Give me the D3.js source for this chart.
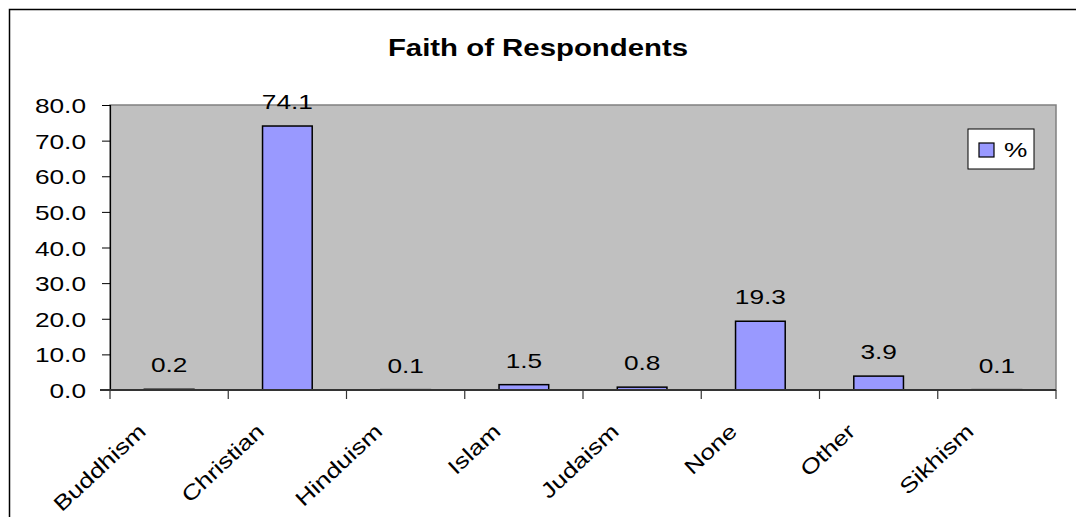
<!DOCTYPE html>
<html>
<head>
<meta charset="utf-8">
<script src="https://cdn.jsdelivr.net/npm/d3@7"></script>
<style>
  html, body { margin: 0; padding: 0; background: #fff; }
  svg { display: block; }
  text { font-family: Arial, "Liberation Sans", sans-serif; fill: #000; }
</style>
</head>
<body>
<script>
const title = "Faith of Respondents";
const categories = ["Buddhism", "Christian", "Hinduism", "Islam", "Judaism", "None", "Other", "Sikhism"];
const values = [0.2, 74.1, 0.1, 1.5, 0.8, 19.3, 3.9, 0.1];
const seriesName = "%";
const yTicks = [0, 10, 20, 30, 40, 50, 60, 70, 80];

const W = 1076, H = 517;
const SX = 1.25; // horizontal stretch of the original rendering
const FS = 21;
const plot = { left: 110, top: 105, right: 1056, bottom: 390 };

const svg = d3.select("body").append("svg").attr("width", W).attr("height", H);

// outer chart border
svg.append("rect").attr("x", 9.5).attr("y", 9.5).attr("width", W + 20).attr("height", H + 20)
  .attr("fill", "#fff").attr("stroke", "#000").attr("stroke-width", 1.5);

const x = d3.scaleBand().domain(categories).range([plot.left, plot.right]).paddingInner(0.58).paddingOuter(0.29);
const xStep = d3.scaleBand().domain(categories).range([plot.left, plot.right]);
const y = d3.scaleLinear().domain([0, 80]).range([plot.bottom, plot.top]);

// plot area
svg.append("rect").attr("x", plot.left).attr("y", plot.top)
  .attr("width", plot.right - plot.left).attr("height", plot.bottom - plot.top)
  .attr("fill", "#c0c0c0").attr("stroke", "#808080").attr("stroke-width", 1.5);

// bars
svg.append("g").selectAll("rect").data(values).join("rect")
  .attr("x", (d, i) => x(categories[i]))
  .attr("y", d => y(d))
  .attr("width", x.bandwidth())
  .attr("height", d => Math.max(0, y(0) - y(d)))
  .attr("fill", "#9999ff").attr("stroke", "#000").attr("stroke-width", 1.5);

// y axis
const yAxis = svg.append("g").attr("transform", `translate(${plot.left},0)`)
  .call(d3.axisLeft(y).tickValues(yTicks).tickSize(8).tickFormat(d => d3.format(".1f")(d)));
yAxis.select(".domain").attr("stroke", "#000").attr("stroke-width", 1.2);
yAxis.selectAll(".tick line").attr("stroke", "#000");
yAxis.selectAll(".tick text")
  .attr("x", null).attr("dy", "0.36em").attr("text-anchor", "end")
  .attr("transform", `translate(-24,0) scale(${SX},1)`)
  .attr("font-size", FS).attr("font-family", "Arial, 'Liberation Sans', sans-serif").attr("fill", "#000");

// x axis line & ticks (between categories)
const xg = svg.append("g");
xg.append("line").attr("x1", plot.left - 10).attr("x2", plot.right).attr("y1", plot.bottom).attr("y2", plot.bottom)
  .attr("stroke", "#333").attr("stroke-width", 2);
const bounds = categories.map(c => xStep(c)).concat([plot.right]);
xg.selectAll("line.tk").data(bounds).join("line").attr("class", "tk")
  .attr("x1", d => d).attr("x2", d => d).attr("y1", plot.bottom).attr("y2", plot.bottom + 9)
  .attr("stroke", "#333").attr("stroke-width", 1.2);

// category labels (rotated -45)
xg.selectAll("text").data(categories).join("text")
  .attr("transform", d => `translate(${xStep(d) + xStep.bandwidth() / 2 - 22},${plot.bottom + 43}) rotate(-43) scale(${SX},1)`)
  .attr("text-anchor", "end")
  .attr("font-size", FS)
  .text(d => d);

// value labels
svg.append("g").selectAll("text").data(values).join("text")
  .attr("transform", (d, i) => `translate(${xStep(categories[i]) + xStep.bandwidth() / 2},${y(d) - 17}) scale(${SX},1)`)
  .attr("text-anchor", "middle").attr("font-size", FS)
  .text(d => d3.format(".1f")(d));

// title
svg.append("text")
  .attr("transform", `translate(538,56) scale(${SX},1)`)
  .attr("text-anchor", "middle").attr("font-size", 23.5).attr("font-weight", "bold")
  .text(title);

// legend
const lg = svg.append("g").attr("transform", "translate(968,129)");
lg.append("rect").attr("width", 66).attr("height", 40).attr("fill", "#fff").attr("stroke", "#000").attr("stroke-width", 1);
lg.append("rect").attr("x", 11).attr("y", 14).attr("width", 15).attr("height", 14)
  .attr("fill", "#9999ff").attr("stroke", "#000").attr("stroke-width", 1.2);
lg.append("text").attr("transform", `translate(36,28) scale(${SX},1)`).attr("font-size", FS).text(seriesName);
</script>
</body>
</html>
